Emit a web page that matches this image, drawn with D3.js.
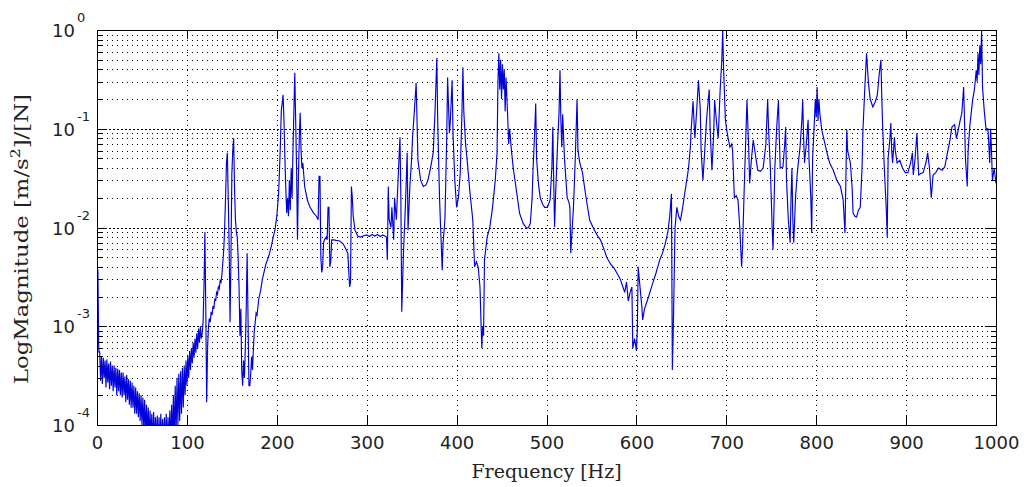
<!DOCTYPE html>
<html><head><meta charset="utf-8">
<script src="https://cdn.jsdelivr.net/npm/d3@7/dist/d3.min.js"></script>
<style>body{margin:0;background:#fff}svg{display:block}</style>
</head><body>
<svg id="chart" width="1027" height="487"></svg>
<script>
// ---- data ----
const freqHz = [
0,1,2,3,4,5,6,7,8,9,10,11,12,13,14,15,16,17,18,19,20,21,22,23,24,25,26,27,28,29,30,31,32,33,34,35,36,37,38,39,40,
41,42,43,44,45,46,47,48,49,50,51,52,53,54,55,56,57,58,59,60,61,62,63,64,65,66,67,68,69,70,71,72,73,74,75,76,77,78,79,80,
81,82,83,84,85,86,87,88,89,90,91,92,93,94,95,96,97,98,99,100,101,102,103,104,105,106,107,108,109,110,111,112,113,114,115,116,117,118,119,120,
121,122,123,124,125,126,127,128,129,130,131,132,133,134,135,136,137,138,139,140,141,142,143,144,145,146,147,148,149,150,151,152,153,154,155,156,157,158,159,160,
161,162,163,164,165,166,167,168,169,170,171,172,173,174,175,176,177,178,180,182,184,186,188,190,192,194,196,198,200,202,203,204,205,207,208,209,210,
211,212,213,214,215,216,217,218,219,220,221,222,223,224,225,226,227,228,229,231,234,237,241,244,246,247,248,249,250,251,252,253,255,256,257,258,259,260,
261,263,266,270,274,277,279,281,282,283,284,285,287,290,293,296,300,303,306,309,312,315,318,320,322,323,324,325,327,328,330,331,333,335,337,338,339,341,343,345,346,348,350,
351,353,355,356,357,360,363,366,368,371,374,376,378,379,381,384,385,387,389,390,392,393,395,396,398,400,402,404,406,407,408,410,412,415,418,420,422,424,426,428,429,430,
431,434,437,440,443,445,446,447,448,449,450,451,452,453,454,455,456,457,458,459,461,463,467,470,474,478,480,482,484,485,487,488,489,491,493,496,498,501,504,506,507,508,509,510,
512,514,515,516,517,518,520,523,525,526,527,528,530,532,534,535,537,540,544,548,553,557,560,564,567,571,575,578,582,585,587,589,591,593,595,596,598,600,
601,602,604,606,607,609,612,615,618,622,626,629,632,635,637,639,640,641,643,645,647,649,651,653,656,658,660,661,663,665,667,669,671,672,674,676,678,681,682,684,686,687,689,691,693,695,696,697,699,
701,704,706,707,709,711,713,715,717,718,720,722,723,725,726,728,730,733,735,738,741,744,746,747,749,751,752,753,754,756,758,759,760,763,765,766,767,769,771,772,773,774,775,777,779,782,784,785,786,787,789,791,792,794,795,796,798,799,800,
801,802,803,804,806,809,812,815,819,823,827,830,832,833,834,835,838,840,841,843,845,847,849,851,852,854,856,858,860,863,866,868,870,872,873,874,876,878,879,880,882,883,884,885,887,888,890,893,896,899,
902,905,907,908,910,912,914,916,919,922,924,926,928,930,933,936,940,943,946,948,951,954,956,958,960,962,964,965,966,968,969,971,974,976,978,979,980,981,982,983,984,985,987,989,990,991,992,993,994,995,996,998,1000
];
const magnitude = [
0.0037,0.0037,0.00055,0.00055,0.00028,0.0005,0.00026,0.00048,0.0003,0.00045,0.00024,0.00046,0.00027,0.00042,0.00023,0.00044,0.00025,0.0004,0.00022,0.0004,0.00024,0.00038,0.0002,0.00037,0.00022,0.00036,0.0002,0.00034,0.00019,0.00034,0.0002,0.00031,0.00017,0.00032,0.00018,0.00029,0.00016,0.00028,0.00015,0.00027,0.00015,
0.00025,0.00013,0.00024,0.00013,0.00022,0.00012,0.00021,0.00011,0.0002,0.0001,0.00019,0.00009,0.00018,0.00008,0.00016,0.00008,0.00015,0.00007,0.00014,0.00007,0.00013,0.00006,0.000135,0.00006,0.00012,0.00006,0.000125,0.00006,0.00012,0.00006,0.00013,0.00006,0.000115,0.00006,0.00012,0.00006,0.00013,0.00006,0.00012,0.00006,
0.00014,0.00006,0.00016,0.00007,0.0002,0.00007,0.00025,0.00008,0.0003,0.0001,0.00033,0.00011,0.00035,0.00013,0.00038,0.00015,0.0004,0.0002,0.00045,0.00025,0.0005,0.0003,0.00056,0.00036,0.0006,0.00042,0.00068,0.00048,0.00075,0.00054,0.00085,0.0006,0.00095,0.00068,0.001,0.00075,0.00085,0.0011,0.0025,0.009,
0.0015,0.00017,0.0006,0.001,0.0012,0.0011,0.0014,0.0013,0.0016,0.0015,0.0019,0.0018,0.0022,0.0021,0.0025,0.0024,0.0029,0.0028,0.0034,0.0045,0.006,0.01,0.02,0.045,0.057,0.02,0.0063,0.0011,0.005,0.035,0.06,0.08,0.025,0.012,0.009,0.008,0.005,0.0025,0.0008,0.0015,
0.00035,0.00025,0.00045,0.0003,0.0006,0.0015,0.0055,0.0012,0.00025,0.00025,0.00033,0.00049,0.00036,0.0006,0.0009,0.0011,0.00136,0.0013,0.0019,0.0023,0.003,0.0036,0.0043,0.0048,0.0055,0.0065,0.008,0.0095,0.013,0.022,0.038,0.07,0.15,0.22,0.12,0.05,0.025,
0.014,0.02,0.013,0.03,0.015,0.04,0.02,0.06,0.15,0.37,0.12,0.04,0.0075,0.03,0.08,0.145,0.06,0.04,0.045,0.026,0.019,0.016,0.014,0.013,0.012,0.033,0.033,0.005,0.0035,0.004,0.007,0.0075,0.008,0.0075,0.016,0.016,0.004,0.0045,
0.0075,0.0075,0.0074,0.0073,0.0068,0.006,0.0055,0.0025,0.0028,0.026,0.02,0.013,0.0094,0.0082,0.008,0.0082,0.0084,0.0081,0.0085,0.0082,0.0085,0.0081,0.0084,0.0082,0.008,0.0047,0.026,0.012,0.01,0.016,0.0075,0.02,0.012,0.032,0.082,0.02,0.0014,0.006,0.016,0.057,0.0094,0.026,0.05,
0.082,0.15,0.29,0.12,0.048,0.03,0.026,0.027,0.03,0.04,0.057,0.15,0.52,0.12,0.02,0.0037,0.007,0.012,0.08,0.33,0.09,0.12,0.31,0.09,0.03,0.016,0.02,0.035,0.15,0.42,0.15,0.07,0.045,0.022,0.012,0.004,0.0045,0.004,0.0025,0.0006,0.001,0.0008,
0.0047,0.008,0.0101,0.016,0.03,0.057,0.3,0.58,0.25,0.5,0.2,0.45,0.25,0.4,0.15,0.33,0.2,0.12,0.07,0.1,0.06,0.04,0.022,0.014,0.011,0.0098,0.01,0.011,0.02,0.038,0.1,0.18,0.05,0.028,0.02,0.017,0.016,0.016,0.019,0.041,0.104,0.03,0.0101,0.02,
0.06,0.15,0.39,0.12,0.065,0.14,0.05,0.02,0.018,0.016,0.0055,0.008,0.016,0.05,0.2,0.061,0.045,0.036,0.02,0.0119,0.0095,0.0082,0.0075,0.006,0.005,0.0043,0.0039,0.0035,0.003,0.0025,0.0022,0.0028,0.0018,0.0022,0.0025,0.0006,0.00075,0.00057,
0.0009,0.004,0.0025,0.0016,0.00116,0.0015,0.0018,0.0022,0.0027,0.0035,0.0047,0.0055,0.0068,0.009,0.0128,0.022,0.00036,0.0009,0.01,0.016,0.013,0.0119,0.015,0.02,0.03,0.04,0.065,0.1,0.19,0.08,0.15,0.31,0.16,0.06,0.03,0.06,0.123,0.25,0.1,0.038,0.09,0.195,0.12,0.08,0.23,0.5,1.0,0.4,0.123,
0.09,0.065,0.07,0.06,0.02,0.021,0.019,0.01,0.004,0.006,0.026,0.1,0.195,0.06,0.028,0.05,0.077,0.05,0.038,0.037,0.04,0.07,0.2,0.1,0.04,0.01,0.006,0.015,0.04,0.1,0.195,0.08,0.04,0.041,0.07,0.104,0.03,0.012,0.007,0.02,0.04,0.012,0.007,0.02,0.036,0.065,0.12,0.195,0.08,0.045,0.07,0.123,0.05,0.02,0.0088,0.05,0.12,0.2,0.13,
0.265,0.12,0.2,0.144,0.1,0.075,0.057,0.045,0.038,0.03,0.026,0.019,0.0088,0.03,0.097,0.06,0.045,0.025,0.014,0.013,0.0128,0.015,0.016,0.04,0.097,0.25,0.58,0.3,0.2,0.166,0.19,0.22,0.35,0.5,0.2,0.1,0.036,0.015,0.008,0.05,0.08,0.114,0.06,0.045,0.082,0.06,0.045,0.048,0.04,0.036,
0.036,0.045,0.057,0.034,0.05,0.09,0.034,0.035,0.036,0.045,0.057,0.04,0.02,0.034,0.036,0.04,0.038,0.041,0.057,0.07,0.104,0.11,0.08,0.097,0.12,0.144,0.265,0.12,0.05,0.026,0.06,0.11,0.195,0.25,0.39,0.3,0.58,0.35,0.7,0.45,1.0,0.265,0.15,0.097,0.1,0.1,0.07,0.045,0.1,0.06,0.03,0.04,0.028
];
const xTickValues = [0,100,200,300,400,500,600,700,800,900,1000];
const yDecades = [1e-4,1e-3,1e-2,1e-1,1];
const yExponents = ["-4","-3","-2","-1","0"];
const xTitle = "Frequency [Hz]";

// ---- layout ----
const L = 97, R = 996, T = 30, B = 425;
const svg = d3.select("#chart");
const x = d3.scaleLinear().domain([0, 1000]).range([L, R]);
const y = d3.scaleLog().domain([1e-4, 1]).range([B, T]);

const minorVals = [];
for (let e = -4; e < 0; e++) for (let k = 2; k <= 9; k++) minorVals.push(k * Math.pow(10, e));

// grid
const grid = svg.append("g").attr("shape-rendering", "crispEdges");
grid.selectAll(".vg").data(xTickValues.slice(1, -1)).enter().append("line")
  .attr("x1", d => Math.round(x(d)) + 0.5).attr("x2", d => Math.round(x(d)) + 0.5)
  .attr("y1", T).attr("y2", B)
  .attr("stroke", "#000").attr("stroke-dasharray", "1,4");
grid.selectAll(".hm").data(minorVals).enter().append("line")
  .attr("x1", L).attr("x2", R)
  .attr("y1", d => Math.round(y(d)) + 0.5).attr("y2", d => Math.round(y(d)) + 0.5)
  .attr("stroke", "#000").attr("stroke-dasharray", "1,4");
grid.selectAll(".hM").data(yDecades.slice(1, -1)).enter().append("line")
  .attr("x1", L).attr("x2", R)
  .attr("y1", d => Math.round(y(d)) + 0.5).attr("y2", d => Math.round(y(d)) + 0.5)
  .attr("stroke", "#000").attr("stroke-dasharray", "2,2");

// data line
svg.append("clipPath").attr("id", "clip").append("rect")
  .attr("x", L).attr("y", T).attr("width", R - L).attr("height", B - T);
const pts = freqHz.map((f, i) => [f, magnitude[i]]);
svg.append("path").datum(pts)
  .attr("clip-path", "url(#clip)")
  .attr("fill", "none").attr("stroke", "#0000d8").attr("stroke-width", 1.15)
  .attr("stroke-linejoin", "miter")
  .attr("d", d3.line().x(d => x(d[0])).y(d => y(d[1])));

// axes
function styleAxis(g) {
  g.select(".domain").remove();
  g.selectAll("line").attr("stroke", "#000").attr("shape-rendering", "crispEdges");
}
svg.append("g").attr("transform", `translate(0,${B})`)
  .call(d3.axisBottom(x).tickValues(xTickValues).tickSizeInner(-9).tickSizeOuter(0).tickPadding(11).tickFormat(d3.format("d")))
  .call(styleAxis)
  .call(g => g.selectAll("text").attr("font-family", "DejaVu Sans").attr("font-size", 18).attr("fill", "#222"));
svg.append("g").attr("transform", `translate(0,${T})`)
  .call(d3.axisTop(x).tickValues(xTickValues).tickSizeInner(-9).tickSizeOuter(0).tickFormat(""))
  .call(styleAxis);
svg.append("g").attr("transform", `translate(${L},0)`)
  .call(d3.axisLeft(y).tickValues(yDecades).tickSizeInner(-9).tickSizeOuter(0).tickFormat(""))
  .call(styleAxis);
svg.append("g").attr("transform", `translate(${L},0)`)
  .call(d3.axisLeft(y).tickValues(minorVals).tickSizeInner(-5).tickSizeOuter(0).tickFormat(""))
  .call(styleAxis);
svg.append("g").attr("transform", `translate(${R},0)`)
  .call(d3.axisRight(y).tickValues(yDecades).tickSizeInner(-9).tickSizeOuter(0).tickFormat(""))
  .call(styleAxis);
svg.append("g").attr("transform", `translate(${R},0)`)
  .call(d3.axisRight(y).tickValues(minorVals).tickSizeInner(-5).tickSizeOuter(0).tickFormat(""))
  .call(styleAxis);

// y tick labels 10^n
const yl = svg.append("g").attr("font-family", "DejaVu Sans").attr("fill", "#222");
yDecades.forEach((v, i) => {
  const yy = y(v);
  yl.append("text").attr("x", 75).attr("y", yy + 7).attr("text-anchor", "end")
    .attr("font-size", 18).text("10");
  yl.append("text").attr("x", 77).attr("y", yy - 8).attr("text-anchor", "start")
    .attr("font-size", 13).text(yExponents[i]);
});

// box
svg.append("rect").attr("x", L + 0.5).attr("y", T + 0.5).attr("width", R - L).attr("height", B - T)
  .attr("fill", "none").attr("stroke", "#000").attr("shape-rendering", "crispEdges");

// titles
svg.append("text").attr("x", (L + R) / 2).attr("y", 478).attr("text-anchor", "middle")
  .attr("font-family", "DejaVu Serif").attr("font-size", 19).attr("fill", "#222").text(xTitle);
const yt = svg.append("text").attr("transform", `translate(28,239) rotate(-90)`)
  .attr("text-anchor", "middle").attr("font-family", "DejaVu Serif").attr("font-size", 19)
  .attr("textLength", 290).attr("lengthAdjust", "spacingAndGlyphs").attr("fill", "#222");
yt.append("tspan").text("LogMagnitude [m/s");
yt.append("tspan").attr("dy", -8).attr("font-size", 13).text("2");
yt.append("tspan").attr("dy", 8).text("]/[N]");
</script>
</body></html>
